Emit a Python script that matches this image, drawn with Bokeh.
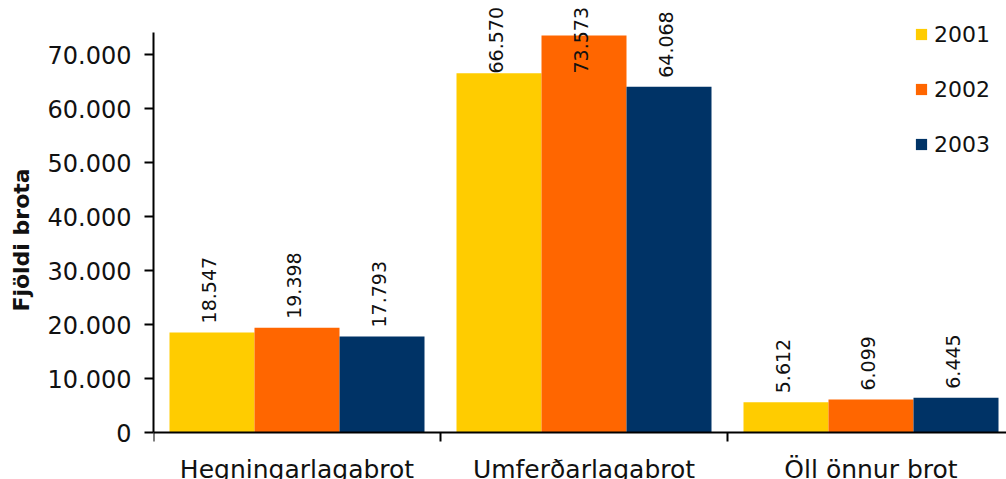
import numpy as np
from bokeh.plotting import figure
from bokeh.models import (Range1d, FixedTicker, Legend, LegendItem,
                          ColumnDataSource)
from bokeh.core.properties import value
from bokeh.embed import file_html
from bokeh.resources import INLINE

categories = ["Hegningarlagabrot", "Umferðarlagabrot", "Öll önnur brot"]
years = ["2001", "2002", "2003"]
v2001 = [18547, 66570, 5612]
v2002 = [19398, 73573, 6099]
v2003 = [17793, 64068, 6445]
colors = ["#FFCC00", "#FF6600", "#003366"]
y_ticks = [0, 10000, 20000, 30000, 40000, 50000, 60000, 70000]

FONT = "DejaVu Sans"
W, H = 1006, 479
LEFT = 153
ZERO_PX = 432          # screen row of the value axis origin
FRAME_W = W - LEFT
CAT_PX = 287.0
PX_PER_10K = 53.96
U_PER_PX = 10000 / PX_PER_10K
Y_MAX = ZERO_PX * U_PER_PX
Y_MIN = -(H - ZERO_PX) * U_PER_PX

p = figure(width=W, height=H, output_backend="svg", toolbar_location=None,
           x_range=Range1d(0, FRAME_W / CAT_PX), y_range=Range1d(Y_MIN, Y_MAX),
           min_border_left=LEFT, min_border_right=0, min_border_top=0,
           min_border_bottom=0)
p.outline_line_color = None
p.grid.visible = False
p.background_fill_color = "white"

centers = np.arange(len(categories)) + 0.5
bw = 85.0 / CAT_PX
series = [v2001, v2002, v2003]
renderers = []
for i, (vals, col) in enumerate(zip(series, colors)):
    xs = centers + (i - 1) * bw
    vals = np.array(vals, dtype=float)
    src = ColumnDataSource(dict(x=xs, top=vals,
                                lab=[f"{int(v):,}".replace(",", ".") for v in vals],
                                ly=np.minimum(vals + 9 * U_PER_PX, (ZERO_PX - 73) * U_PER_PX)))
    r = p.vbar(x="x", top="top", bottom=0, width=bw, source=src, fill_color=col,
               line_color=None)
    renderers.append(r)
    p.text(x="x", y="ly", text="lab", source=src, angle=np.pi / 2,
           text_align="left", text_baseline="middle", x_offset=-3,
           text_font=value(FONT), text_font_size="19px", text_color="#111111")

# category labels
cat_src = ColumnDataSource(dict(x=centers, y=np.zeros(len(categories)), t=categories))
p.text(x="x", y="y", text="t", source=cat_src, text_align="center",
       text_baseline="top", y_offset=22, text_font=value(FONT),
       text_font_size="25px", text_color="#111111")

# axes
ya = p.yaxis[0]
ya.ticker = FixedTicker(ticks=y_ticks, minor_ticks=[])
ya.major_label_overrides = {t: (f"{t:,}".replace(",", ".")) for t in y_ticks}
ya.major_label_text_font = FONT
ya.major_label_text_font_size = "24px"
ya.major_label_text_color = "#111111"
ya.major_tick_out = 9
ya.major_tick_in = 0
ya.major_tick_line_width = 2
ya.axis_line_width = 2
ya.major_label_standoff = 13
ya.bounds = (0, 74100)
ya.axis_label = "Fjöldi brota"
ya.axis_label_text_font = FONT
ya.axis_label_text_font_style = "bold"
ya.axis_label_text_font_size = "22px"
ya.axis_label_text_color = "#111111"
ya.axis_label_standoff = 11

xa = p.xaxis[0]
bounds_ticks = list(range(len(categories) + 1))
xa.fixed_location = 0
xa.ticker = FixedTicker(ticks=bounds_ticks, minor_ticks=[])
xa.major_label_overrides = {t: "" for t in bounds_ticks}
xa.major_label_text_font_size = "0px"
xa.major_label_standoff = 0
xa.major_tick_out = 0
xa.major_tick_in = -9
xa.major_tick_line_width = 2
xa.axis_line_width = 2

legend = Legend(items=[LegendItem(label=y, renderers=[r]) for y, r in zip(years, renderers)],
                location=(761, 274 + (H - ZERO_PX)), orientation="vertical",
                glyph_width=14, glyph_height=14, label_height=28, spacing=27,
                label_standoff=6, padding=0, margin=0,
                label_text_font=FONT, label_text_font_size="22px",
                label_text_color="#111111", border_line_alpha=0,
                background_fill_alpha=0)
p.add_layout(legend)

open("out.html", "w").write(file_html(p, INLINE))
